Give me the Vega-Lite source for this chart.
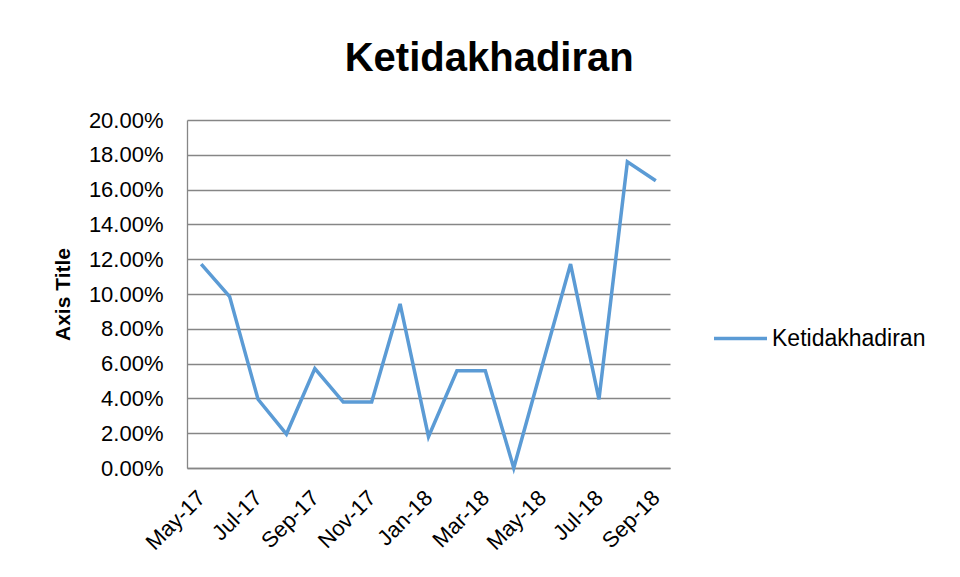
{
  "$schema": "https://vega.github.io/schema/vega-lite/v6.json",
  "autosize": "none",
  "width": 483,
  "height": 348,
  "padding": {"left": 187, "top": 120, "right": 290, "bottom": 109},
  "background": "white",
  "title": {
    "text": "Ketidakhadiran",
    "font": "Liberation Sans",
    "fontSize": 40,
    "fontWeight": "bold",
    "color": "#000000",
    "anchor": "middle",
    "frame": "bounds",
    "baseline": "alphabetic",
    "offset": -2
  },
  "data": {
    "values": [
      {"month": "May-17", "value": 0.1172, "series": "Ketidakhadiran"},
      {"month": "Jun-17", "value": 0.0985, "series": "Ketidakhadiran"},
      {"month": "Jul-17", "value": 0.0395, "series": "Ketidakhadiran"},
      {"month": "Aug-17", "value": 0.0195, "series": "Ketidakhadiran"},
      {"month": "Sep-17", "value": 0.0571, "series": "Ketidakhadiran"},
      {"month": "Oct-17", "value": 0.0379, "series": "Ketidakhadiran"},
      {"month": "Nov-17", "value": 0.0379, "series": "Ketidakhadiran"},
      {"month": "Dec-17", "value": 0.0943, "series": "Ketidakhadiran"},
      {"month": "Jan-18", "value": 0.0180, "series": "Ketidakhadiran"},
      {"month": "Feb-18", "value": 0.0559, "series": "Ketidakhadiran"},
      {"month": "Mar-18", "value": 0.0559, "series": "Ketidakhadiran"},
      {"month": "Apr-18", "value": 0.0, "series": "Ketidakhadiran"},
      {"month": "May-18", "value": 0.0588, "series": "Ketidakhadiran"},
      {"month": "Jun-18", "value": 0.1172, "series": "Ketidakhadiran"},
      {"month": "Jul-18", "value": 0.0395, "series": "Ketidakhadiran"},
      {"month": "Aug-18", "value": 0.1760, "series": "Ketidakhadiran"},
      {"month": "Sep-18", "value": 0.1651, "series": "Ketidakhadiran"}
    ]
  },
  "mark": {"type": "line", "strokeWidth": 3.5, "strokeJoin": "miter"},
  "encoding": {
    "x": {
      "field": "month",
      "type": "ordinal",
      "sort": null,
      "scale": {"type": "point", "padding": 0.5},
      "axis": {
        "title": null,
        "values": ["May-17", "Jul-17", "Sep-17", "Nov-17", "Jan-18", "Mar-18", "May-18", "Jul-18", "Sep-18"],
        "labelAngle": -45,
        "labelAlign": "right",
        "labelBaseline": "middle",
        "labelPadding": 26,
        "labelFont": "Liberation Sans",
        "labelFontSize": 22,
        "labelColor": "#000000",
        "ticks": false,
        "grid": false,
        "domainColor": "#868686",
        "domainWidth": 1.3,
        "labelOverlap": false
      }
    },
    "y": {
      "field": "value",
      "type": "quantitative",
      "scale": {"domain": [0, 0.2], "nice": false},
      "axis": {
        "title": "Axis Title",
        "titleFont": "Liberation Sans",
        "titleFontSize": 21,
        "titleFontWeight": "bold",
        "titleColor": "#000000",
        "titlePadding": 15,
        "values": [0, 0.02, 0.04, 0.06, 0.08, 0.1, 0.12, 0.14, 0.16, 0.18, 0.2],
        "format": ".2%",
        "labelFont": "Liberation Sans",
        "labelFontSize": 22,
        "labelColor": "#000000",
        "labelPadding": 24,
        "ticks": false,
        "grid": true,
        "gridColor": "#868686",
        "gridWidth": 1.3,
        "domainColor": "#868686",
        "domainWidth": 1.3
      }
    },
    "color": {
      "field": "series",
      "type": "nominal",
      "scale": {"range": ["#5B9BD5"]},
      "legend": {
        "title": null,
        "orient": "none",
        "legendX": 525,
        "legendY": 190,
        "symbolType": "stroke",
        "symbolSize": 2809,
        "symbolStrokeWidth": 3.5,
        "labelFont": "Liberation Sans",
        "labelFontSize": 23,
        "labelColor": "#000000",
        "labelOffset": 3,
        "padding": 0
      }
    }
  },
  "config": {
    "view": {"stroke": null}
  }
}
